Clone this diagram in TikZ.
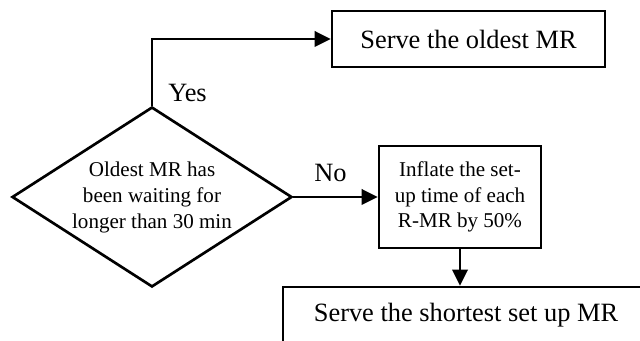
\documentclass[tikz,border=0pt]{standalone}
\usepackage{fontspec}
\setmainfont{Liberation Serif}
\usetikzlibrary{shapes.geometric,arrows.meta}
\begin{document}
\begin{tikzpicture}[x=0.75pt,y=-0.75pt,
  line width=2pt,
  bigtext/.style={font=\fontsize{19.8}{24}\selectfont},
  smalltext/.style={font=\fontsize{15.8}{19.5}\selectfont},
  box/.style={draw, rectangle, align=center, inner sep=0pt},
  decision/.style={draw, diamond, aspect=1.556, inner sep=0pt, align=center},
  arrow/.style={-{Triangle[length=12pt,width=11.5pt]}},
  lbl/.style={bigtext, inner sep=0pt}]
\useasboundingbox (0,0) rectangle (640,341);
\clip (0,0) rectangle (640,341);
\node[decision, smalltext, minimum width=210pt, minimum height=135pt] (dia) at (152,197)
  {Oldest MR has\\been waiting for\\longer than 30 min};
\node[box, bigtext, minimum width=204.75pt, minimum height=42pt] (old) at (468.5,39)
  {Serve the oldest MR};
\node[box, font=\fontsize{15.8}{19.1}\selectfont, minimum width=121.5pt, minimum height=76.5pt] (infl) at (460,197)
  {Inflate the set-\\up time of each\\R-MR by 50\%};
\node[box, bigtext, anchor=base, minimum width=274.5pt, text height=13.5pt, text depth=30pt, inner ysep=12.75pt] (short) at (466,322)
  {Serve the shortest set up MR};
\draw[arrow] (dia.north) |- (old.west);
\draw[arrow] (dia.east) -- (infl.west);
\draw[arrow] (infl.south) -- (infl.south |- short.north);
\node[lbl, anchor=base west] (yes) at (167,102) {Yes};
\node[lbl, anchor=base west] (no) at (313,182) {No};
\end{tikzpicture}
\end{document}
